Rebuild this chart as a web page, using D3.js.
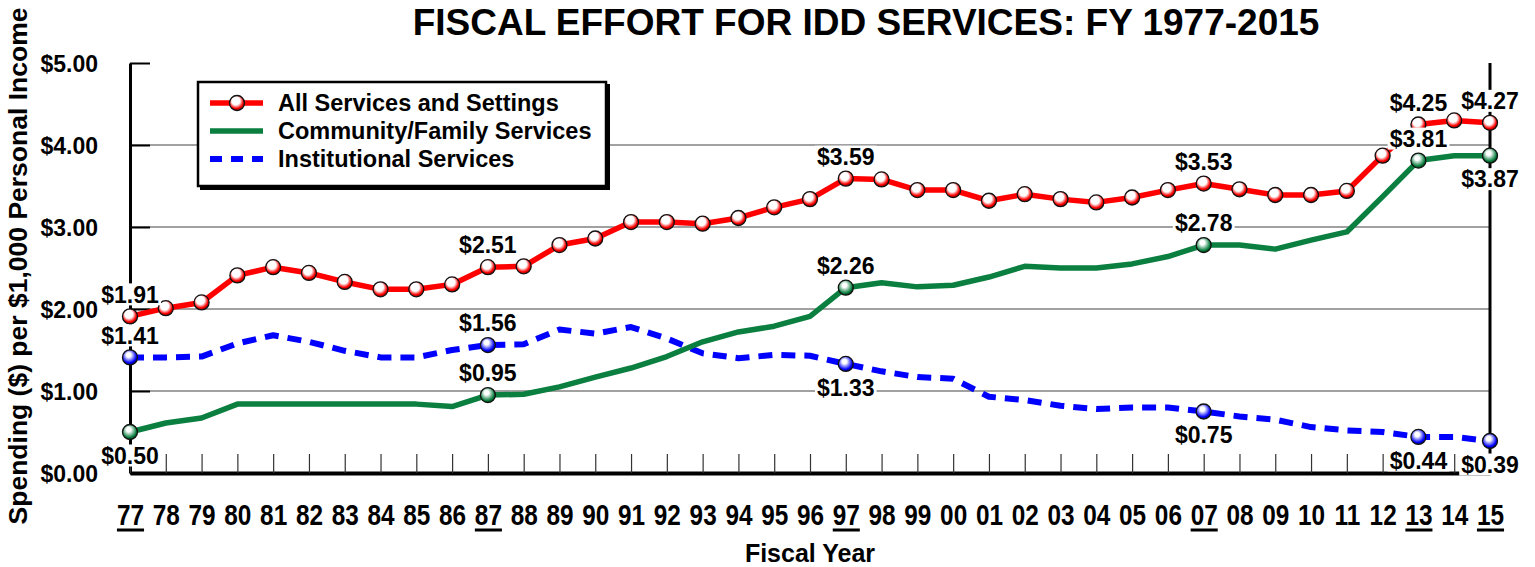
<!DOCTYPE html>
<html>
<head>
<meta charset="utf-8">
<script src="https://cdn.jsdelivr.net/npm/d3@7"></script>
<style>
  body { margin: 0; background: #fff; }
  svg text { font-family: "Liberation Sans", Arial, Helvetica, sans-serif; font-weight: bold; fill: #000; }
</style>
</head>
<body>
<script>
// Data (dollars per $1,000 personal income)
var years = ["77","78","79","80","81","82","83","84","85","86","87","88","89","90","91","92","93","94","95","96",
             "97","98","99","00","01","02","03","04","05","06","07","08","09","10","11","12","13","14","15"];

var allServices = [1.91, 2.01, 2.08, 2.41, 2.51, 2.44, 2.33, 2.24, 2.24, 2.30,
                   2.51, 2.52, 2.78, 2.86, 3.06, 3.06, 3.04, 3.11, 3.24, 3.34,
                   3.59, 3.58, 3.45, 3.45, 3.32, 3.40, 3.34, 3.30, 3.36, 3.45,
                   3.53, 3.46, 3.39, 3.39, 3.44, 3.87, 4.25, 4.30, 4.27];

var community = [0.50, 0.61, 0.67, 0.84, 0.84, 0.84, 0.84, 0.84, 0.84, 0.81,
                 0.95, 0.96, 1.05, 1.17, 1.28, 1.42, 1.60, 1.72, 1.79, 1.91,
                 2.26, 2.32, 2.27, 2.29, 2.39, 2.52, 2.50, 2.50, 2.55, 2.64,
                 2.78, 2.78, 2.73, 2.84, 2.94, 3.37, 3.81, 3.87, 3.87];

var institutional = [1.41, 1.41, 1.42, 1.58, 1.68, 1.60, 1.49, 1.41, 1.41, 1.50,
                     1.56, 1.57, 1.75, 1.70, 1.78, 1.64, 1.46, 1.40, 1.44, 1.43,
                     1.33, 1.24, 1.17, 1.15, 0.93, 0.89, 0.82, 0.78, 0.80, 0.80,
                     0.75, 0.69, 0.65, 0.56, 0.52, 0.50, 0.44, 0.44, 0.39];

var labeledYears = ["77","87","97","07","13","15"];
var yTicks = [0, 1, 2, 3, 4, 5];

var seriesNames = ["All Services and Settings", "Community/Family Services", "Institutional Services"];

// label placement: "a" = above the point, "b" = below
var series = [
  { name: seriesNames[0], values: allServices,   color: "#ff0000", dark: "#8a0000", dash: null,   allMarkers: true,
    place: ["a","a","a","a","a","a"] },
  { name: seriesNames[1], values: community,     color: "#0a7f3f", dark: "#003a10", dash: null,   allMarkers: false,
    place: ["b","a","a","a","a","b"] },
  { name: seriesNames[2], values: institutional, color: "#0000ff", dark: "#00006a", dash: "14,9", allMarkers: false,
    place: ["a","a","b","b","b","b"] }
];

var width = 1535, height = 567;
var svg = d3.select("body").append("svg")
  .attr("width", width)
  .attr("height", height);

var x = d3.scalePoint().domain(years).range([130, 1490]);
var y = d3.scaleLinear().domain([0, 5]).range([473, 63]);
var fmt = d3.format("$.2f");

// marker gradients
var defs = svg.append("defs");
series.forEach(function(s, i) {
  var g = defs.append("radialGradient")
    .attr("id", "grad" + i)
    .attr("cx", "45%").attr("cy", "40%").attr("r", "60%")
    .attr("fx", "40%").attr("fy", "32%");
  g.append("stop").attr("offset", "0%").attr("stop-color", "#fff");
  g.append("stop").attr("offset", i === 0 ? "45%" : "25%").attr("stop-color", "#fff");
  g.append("stop").attr("offset", "80%").attr("stop-color", s.color);
  g.append("stop").attr("offset", "100%").attr("stop-color", s.dark);
});

// gridlines
svg.append("g").selectAll("line")
  .data([1, 2, 3, 4])
  .enter().append("line")
  .attr("x1", 130).attr("x2", 1490)
  .attr("y1", function(d) { return y(d); })
  .attr("y2", function(d) { return y(d); })
  .attr("stroke", "#444")
  .attr("stroke-width", 1.2);

// right border
svg.append("line")
  .attr("x1", 1490).attr("x2", 1490)
  .attr("y1", y(5)).attr("y2", y(0))
  .attr("stroke", "#000").attr("stroke-width", 3);

// y axis
var yAxis = svg.append("g")
  .attr("transform", "translate(130,0)")
  .call(d3.axisLeft(y).tickValues(yTicks).tickSize(-20).tickSizeOuter(0).tickPadding(32).tickFormat(fmt));
yAxis.select(".domain").attr("stroke-width", 3);
yAxis.selectAll(".tick line").attr("stroke-width", 2);
yAxis.selectAll(".tick text").attr("font-size", 23).attr("dy", "0.38em");

// x axis (condensed year labels)
var xAxis = svg.append("g")
  .attr("transform", "translate(0,473)")
  .call(d3.axisBottom(x).tickSize(-19).tickSizeOuter(0).tickPadding(31));
xAxis.select(".domain").attr("stroke-width", 4);
xAxis.selectAll(".tick line").attr("stroke", "#333").attr("stroke-width", 1.2);
xAxis.selectAll(".tick text")
  .attr("font-size", 29)
  .attr("transform", "scale(0.84,1)");
xAxis.selectAll(".tick").each(function(d) {
  if (labeledYears.indexOf(d) < 0) return;
  var t = d3.select(this).select("text");
  var w = t.node().getComputedTextLength() * 0.84;
  d3.select(this).append("line")
    .attr("x1", -w / 2).attr("x2", w / 2)
    .attr("y1", 57).attr("y2", 57)
    .attr("stroke", "#000").attr("stroke-width", 3);
});

// lines
var line = d3.line()
  .x(function(d, i) { return x(years[i]); })
  .y(function(d) { return y(d); });

series.slice().reverse().forEach(function(s) {
  svg.append("path")
    .datum(s.values)
    .attr("d", line)
    .attr("fill", "none")
    .attr("stroke", s.color)
    .attr("stroke-width", s.dash ? 6 : 5.5)
    .attr("stroke-dasharray", s.dash)
    .attr("stroke-linejoin", "round");
});

// markers
series.forEach(function(s, si) {
  var pts = years.map(function(yr, i) { return { year: yr, v: s.values[i] }; })
    .filter(function(d) { return s.allMarkers || labeledYears.indexOf(d.year) >= 0; });
  svg.append("g").selectAll("circle")
    .data(pts)
    .enter().append("circle")
    .attr("cx", function(d) { return x(d.year); })
    .attr("cy", function(d) { return y(d.v); })
    .attr("r", 7.5)
    .attr("fill", "url(#grad" + si + ")")
    .attr("stroke", "#111")
    .attr("stroke-width", 1.3);
});

// data labels with white boxes
var labelG = svg.append("g");
series.forEach(function(s) {
  labeledYears.forEach(function(yr, k) {
    var v = s.values[years.indexOf(yr)];
    var cy = y(v) + (s.place[k] === "a" ? -22 : 23.5);
    var g = labelG.append("g");
    var t = g.append("text")
      .attr("x", x(yr))
      .attr("y", cy + 8.2)
      .attr("text-anchor", "middle")
      .attr("font-size", 23)
      .text(fmt(v));
    var b = t.node().getBBox();
    g.insert("rect", "text")
      .attr("x", b.x - 2).attr("y", cy - 11)
      .attr("width", b.width + 4).attr("height", 22)
      .attr("fill", "#fff");
  });
});

// legend
var lg = svg.append("g");
lg.append("rect").attr("x", 200).attr("y", 84).attr("width", 410).attr("height", 106).attr("fill", "#000");
lg.append("rect").attr("x", 198).attr("y", 82).attr("width", 408).attr("height", 104)
  .attr("fill", "#fff").attr("stroke", "#000").attr("stroke-width", 2.5);
series.forEach(function(s, i) {
  var ly = 103 + i * 28;
  lg.append("line")
    .attr("x1", 210).attr("x2", 263)
    .attr("y1", ly).attr("y2", ly)
    .attr("stroke", s.color)
    .attr("stroke-width", s.dash ? 6 : 5.5)
    .attr("stroke-dasharray", s.dash ? "12,9" : null);
  if (i === 0) {
    lg.append("circle").attr("cx", 237).attr("cy", ly).attr("r", 7.5)
      .attr("fill", "url(#grad0)").attr("stroke", "#111").attr("stroke-width", 1.3);
  }
  lg.append("text")
    .attr("x", 278).attr("y", ly + 8.2)
    .attr("font-size", 23.5)
    .text(s.name);
});

// titles
svg.append("text")
  .attr("x", 866).attr("y", 35)
  .attr("text-anchor", "middle")
  .attr("font-size", 37)
  .text("FISCAL EFFORT FOR IDD SERVICES: FY 1977-2015");

svg.append("text")
  .attr("x", 810).attr("y", 562)
  .attr("text-anchor", "middle")
  .attr("font-size", 25)
  .text("Fiscal Year");

svg.append("text")
  .attr("transform", "translate(27,266) rotate(-90)")
  .attr("text-anchor", "middle")
  .attr("font-size", 26.5)
  .text("Spending ($) per $1,000 Personal Income");
</script>
</body>
</html>
